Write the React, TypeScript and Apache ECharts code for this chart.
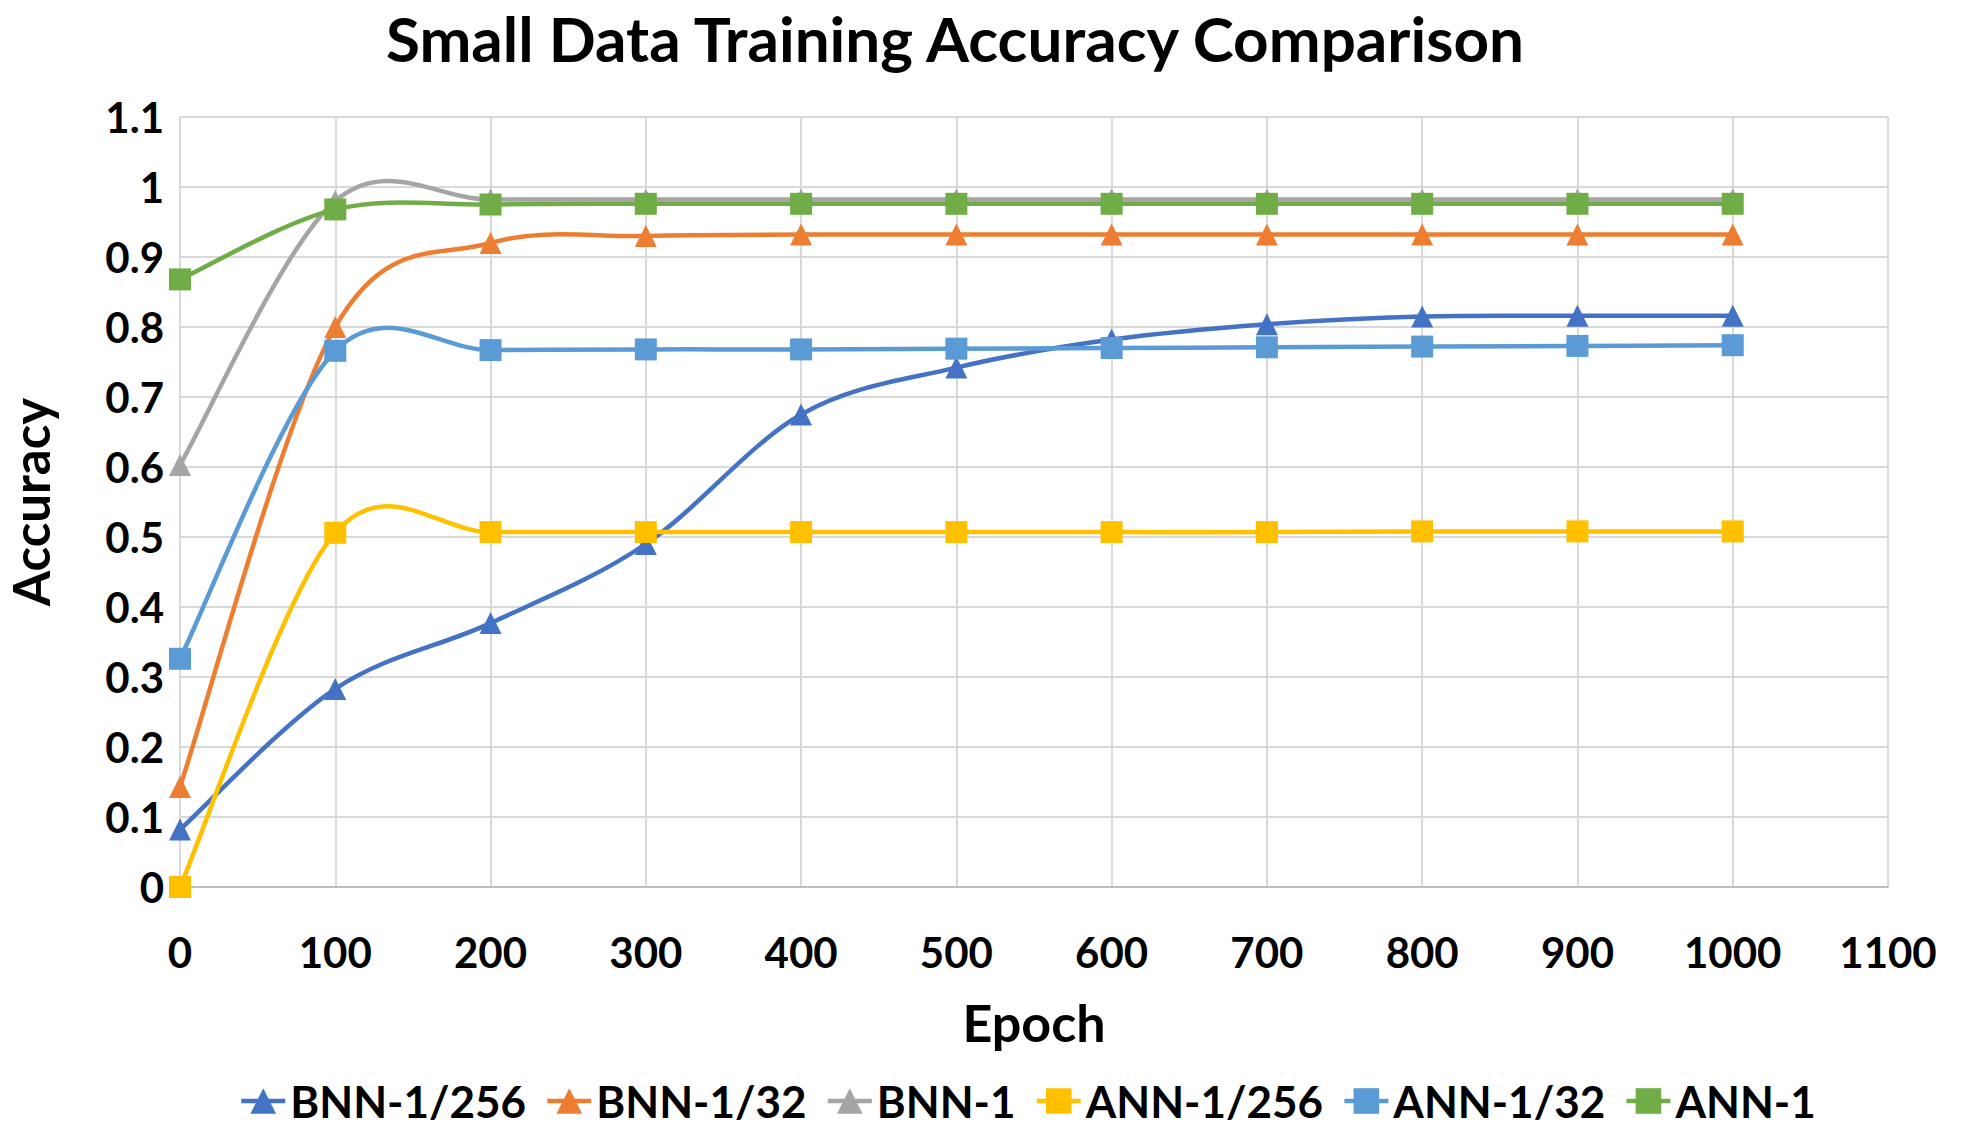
import React, { useEffect, useRef } from "react";
import * as echarts from "echarts";

const epochs = [0, 100, 200, 300, 400, 500, 600, 700, 800, 900, 1000];
const bnn256 = [0.082, 0.283, 0.377, 0.49, 0.675, 0.742, 0.782, 0.804, 0.815, 0.816, 0.816];
const bnn32 = [0.143, 0.8, 0.92, 0.93, 0.932, 0.932, 0.932, 0.932, 0.932, 0.932, 0.932];
const bnn1 = [0.603, 0.98, 0.982, 0.982, 0.982, 0.982, 0.982, 0.982, 0.982, 0.982, 0.982];
const ann256 = [0.0, 0.506, 0.507, 0.507, 0.507, 0.507, 0.507, 0.507, 0.508, 0.508, 0.508];
const ann32 = [0.326, 0.766, 0.767, 0.768, 0.768, 0.769, 0.77, 0.771, 0.772, 0.773, 0.774];
const ann1 = [0.868, 0.968, 0.975, 0.976, 0.976, 0.976, 0.976, 0.976, 0.976, 0.976, 0.976];

const seriesNames = ["BNN-1/256", "BNN-1/32", "BNN-1", "ANN-1/256", "ANN-1/32", "ANN-1"];
const seriesColors = ["#4472C4", "#ED7D31", "#A5A5A5", "#FFC000", "#5B9BD5", "#70AD47"];
const seriesSymbols = ["triangle", "triangle", "triangle", "rect", "rect", "rect"];
const seriesValues = [bnn256, bnn32, bnn1, ann256, ann32, ann1];

const TITLE = "Small Data Training Accuracy Comparison";
const FONT = "Lato, 'Open Sans', sans-serif";
const LINE_W = 4.5;

function smoothRenderer(vals: number[], color: string) {
  const n = vals.length;
  return (params: any, api: any) => {
    const i = params.dataIndex;
    if (i >= n - 1) return null;
    const P = (k: number) => {
      const kk = Math.max(0, Math.min(n - 1, k));
      return api.coord([epochs[kk], vals[kk]]);
    };
    const p0 = P(i - 1);
    const p1 = P(i);
    const p2 = P(i + 1);
    const p3 = P(i + 2);
    return {
      type: "bezierCurve",
      shape: {
        x1: p1[0],
        y1: p1[1],
        x2: p2[0],
        y2: p2[1],
        cpx1: p1[0] + (p2[0] - p0[0]) / 6,
        cpy1: p1[1] + (p2[1] - p0[1]) / 6,
        cpx2: p2[0] - (p3[0] - p1[0]) / 6,
        cpy2: p2[1] - (p3[1] - p1[1]) / 6,
      },
      style: { stroke: color, lineWidth: LINE_W, fill: "none", lineCap: "round" },
    };
  };
}

export default function App() {
  const ref = useRef<HTMLDivElement>(null);
  useEffect(() => {
    document.body.style.margin = "0";
    const chart = echarts.init(ref.current!, null, { renderer: "svg" });
    const markerSeries = seriesNames.map((name, i) => ({
      name,
      type: "line",
      symbol: seriesSymbols[i],
      symbolSize: 22,
      showSymbol: true,
      showAllSymbol: true,
      color: seriesColors[i],
      lineStyle: { width: LINE_W, color: seriesColors[i], opacity: 0 },
      itemStyle: { color: seriesColors[i] },
      data: epochs.map((e, j) => [e, seriesValues[i][j]]),
      z: 11 + 2 * i,
    }));
    const curveSeries = seriesNames.map((name, i) => ({
      name,
      type: "custom",
      renderItem: smoothRenderer(seriesValues[i], seriesColors[i]),
      encode: { x: 0, y: 1 },
      data: epochs.map((e, j) => [e, seriesValues[i][j]]),
      z: 10 + 2 * i,
    }));
    chart.setOption({
      animation: false,
      backgroundColor: "#ffffff",
      graphic: [
        {
          type: "text",
          x: 955,
          y: 38,
          style: {
            text: TITLE,
            textAlign: "center",
            textVerticalAlign: "middle",
            fontFamily: FONT,
            fontWeight: "bold",
            fontSize: 62,
            fill: "#000",
          },
        },
      ],
      legend: {
        bottom: 12,
        left: 234,
        itemWidth: 44,
        itemHeight: 32,
        itemGap: 19,
        lineStyle: { opacity: 1, width: LINE_W },
        textStyle: { fontFamily: FONT, fontWeight: "bold", fontSize: 44, color: "#000" },
        data: seriesNames,
      },
      grid: {
        left: 180,
        right: 83,
        top: 117,
        bottom: 253,
        containLabel: false,
        outerBoundsMode: "none",
      },
      xAxis: {
        type: "value",
        min: 0,
        max: 1100,
        interval: 100,
        name: "Epoch",
        nameLocation: "middle",
        nameGap: 109,
        nameTextStyle: { fontFamily: FONT, fontWeight: "bold", fontSize: 52, color: "#000" },
        axisLine: { show: true, lineStyle: { color: "#BFBFBF", width: 2 } },
        axisTick: { show: false },
        axisLabel: {
          fontFamily: FONT,
          fontWeight: "bold",
          fontSize: 42,
          color: "#000",
          margin: 44,
          formatter: (v: number) => String(v),
        },
        splitLine: { show: true, lineStyle: { color: "#D9D9D9", width: 2 } },
      },
      yAxis: {
        type: "value",
        min: 0,
        max: 1.1,
        interval: 0.1,
        name: "Accuracy",
        nameLocation: "middle",
        nameGap: 124,
        nameRotate: 90,
        nameTextStyle: {
          fontFamily: FONT,
          fontWeight: "bold",
          fontSize: 51,
          lineHeight: 51,
          color: "#000",
        },
        axisLine: { show: false },
        axisTick: { show: false },
        axisLabel: {
          fontFamily: FONT,
          fontWeight: "bold",
          fontSize: 42,
          color: "#000",
          margin: 16,
          formatter: (v: number) => String(+v.toFixed(1)),
        },
        splitLine: { show: true, lineStyle: { color: "#D9D9D9", width: 2 } },
      },
      series: [...markerSeries, ...curveSeries],
    });
    return () => chart.dispose();
  }, []);
  return <div ref={ref} style={{ width: 1971, height: 1140 }} />;
}
